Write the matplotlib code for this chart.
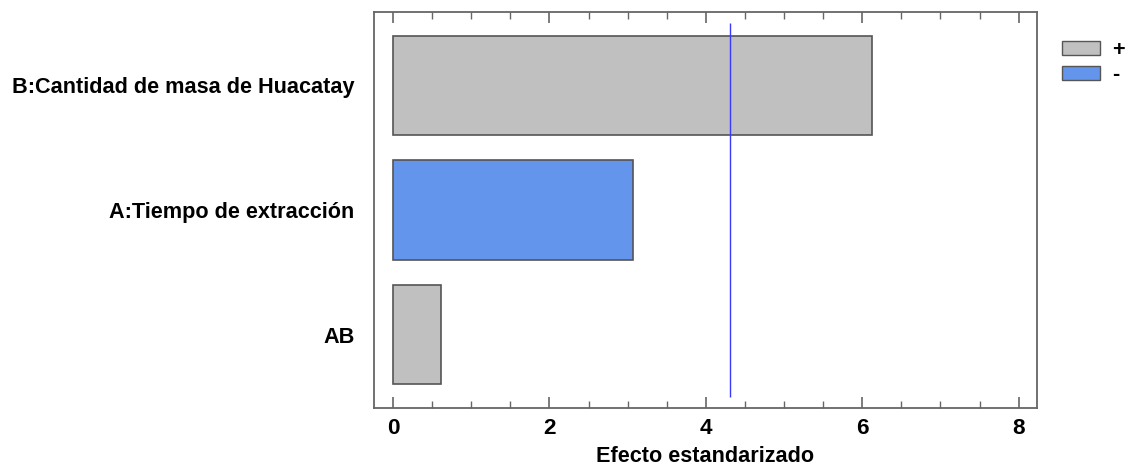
import matplotlib.pyplot as plt
from matplotlib.patches import Patch
from matplotlib.ticker import MultipleLocator

# datos del diagrama de Pareto (de abajo hacia arriba)
efectos = ['AB', 'A:Tiempo de extracción', 'B:Cantidad de masa de Huacatay']
valores = [0.614, 3.065, 6.12]
signos = ['+', '-', '+']
limite = 4.31

colores = {'+': '#c0c0c0', '-': '#6495ed'}

plt.rcParams['font.family'] = ['Liberation Sans', 'DejaVu Sans']
plt.rcParams['font.weight'] = 'bold'
fs = 15.6

fig = plt.figure(figsize=(11.29, 4.67), dpi=100)
ax = fig.add_axes([0.3313, 0.1263, 0.5872, 0.848])

pos = list(range(len(efectos)))
ax.barh(pos, valores, height=0.8, color=[colores[s] for s in signos],
        edgecolor='#555555', linewidth=1.2)
ax.vlines(limite, -0.5, 2.5, color='#3a3aff', linewidth=1)

ax.set_xlim(-0.243, 8.235)
ax.set_ylim(-0.59, 2.59)
ax.set_yticks(pos)
ax.set_yticklabels(efectos, fontsize=fs, fontweight='bold')
ax.tick_params(axis='y', length=0, pad=14)

ax.xaxis.set_major_locator(MultipleLocator(2))
ax.xaxis.set_minor_locator(MultipleLocator(0.5))
ax.tick_params(axis='x', which='major', direction='in', length=8, width=1.2,
               color='#666666', top=True, labelsize=fs + 0.6, pad=7)
ax.tick_params(axis='x', which='minor', direction='in', length=5, width=1.0,
               color='#666666', top=True)
for lab in ax.get_xticklabels():
    lab.set_fontweight('bold')
ax.set_xlabel('Efecto estandarizado', fontsize=fs, fontweight='bold', labelpad=5)

for sp in ax.spines.values():
    sp.set_color('#666666')
    sp.set_linewidth(1.3)

handles = [Patch(facecolor=colores['+'], edgecolor='#555555', label='+'),
           Patch(facecolor=colores['-'], edgecolor='#555555', label='-')]
fig.legend(handles=handles, loc='upper left', bbox_to_anchor=(0.9406, 0.915),
           frameon=False, handlelength=1.75, handleheight=0.62,
           labelspacing=0.16, handletextpad=0.55, borderaxespad=0, borderpad=0,
           prop={'weight': 'bold', 'size': fs})

fig.savefig('out.png', dpi=100)
